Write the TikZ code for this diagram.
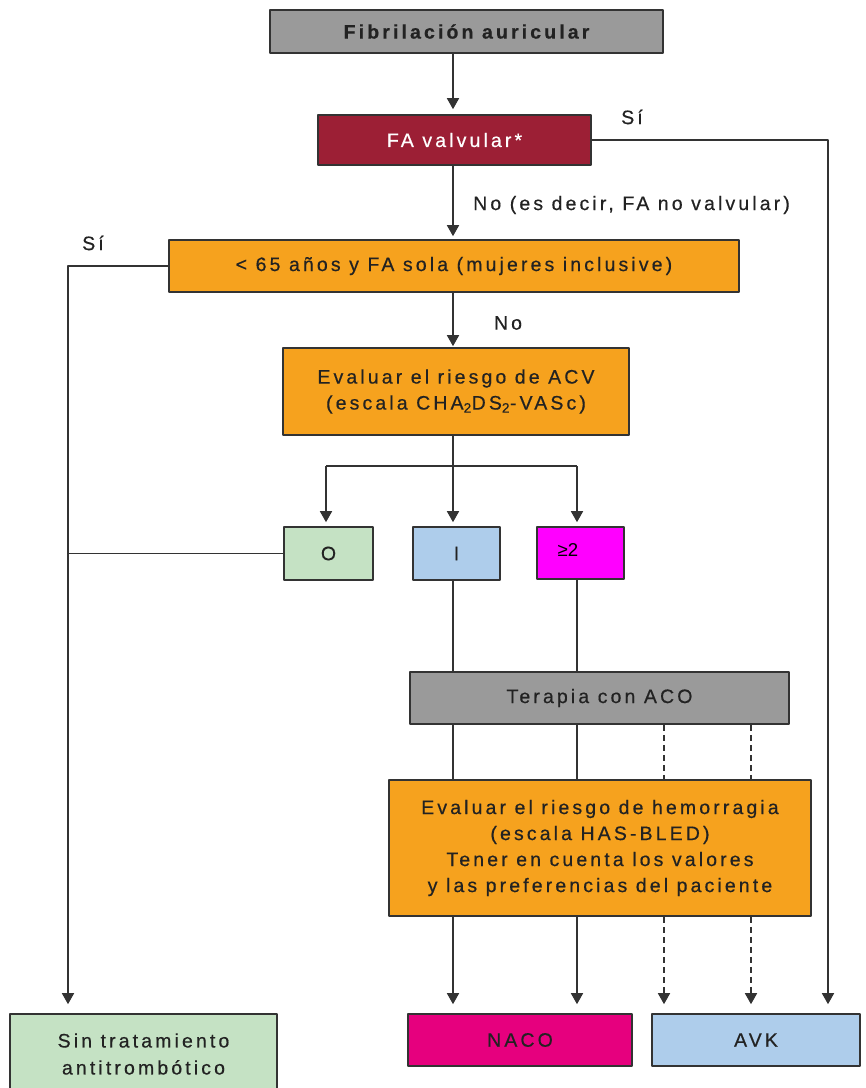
\documentclass[tikz,border=0pt]{standalone}
\usepackage{fontspec}
\setmainfont{Liberation Sans}[LetterSpace=16,FakeBold=0.5]
\newfontfamily\plainfont{Liberation Sans}
\usetikzlibrary{arrows.meta}

\definecolor{gris}{HTML}{9A9A9A}
\definecolor{vino}{HTML}{9C1F35}
\definecolor{naranja}{HTML}{F6A21E}
\definecolor{verde}{HTML}{C5E2C4}
\definecolor{celeste}{HTML}{AECDEB}
\definecolor{fucsia}{HTML}{FF00FF}
\definecolor{rosa}{HTML}{E6007E}
\definecolor{borde}{HTML}{333333}
\definecolor{tinta}{HTML}{222222}

\begin{document}
\begin{tikzpicture}[line join=round,x=1pt,y=-1pt,
  >={Triangle[length=11pt,width=12pt]},
  caja/.style={draw=borde,line width=1.6pt,inner sep=0pt,align=center,text=tinta,
    font=\fontsize{19.5}{26}\selectfont},
  etiq/.style={inner sep=0pt,text=tinta,font=\fontsize{19.5}{26}\selectfont},
  linea/.style={draw=borde,line width=1.6pt},
  flecha/.style={linea,->},
  punteada/.style={linea,dash pattern=on 6pt off 4pt}]

\useasboundingbox (0,0) rectangle (866,1088);
\clip (0,0) rectangle (866,1088);

\coordinate (eje) at (453,0);
\coordinate (izq) at (68,0);
\coordinate (der) at (828,0);
\coordinate (p1) at (664,0);
\coordinate (p2) at (751,0);
\coordinate (c0) at (326,466);
\coordinate (c1) at (453,466);
\coordinate (c2) at (577,466);

\node[caja,fill=gris,minimum width=393,minimum height=43,
  font=\fontsize{19.5}{26}\selectfont\bfseries] (fa) at (466.5,31.5) {Fibrilación auricular};
\node[caja,fill=vino,text=white,minimum width=273,minimum height=50] (valv) at (454.5,140) {FA valvular*};
\node[caja,fill=naranja,minimum width=570,minimum height=52] (edad) at (454,266) {< 65 años y FA sola (mujeres inclusive)};
\node[caja,fill=naranja,minimum width=346,minimum height=87] (acv) at (456,391.5)
  {Evaluar el riesgo de ACV\\(escala CHA\textsubscript{2}DS\textsubscript{2}-VASc)};
\node[caja,fill=verde,minimum width=89,minimum height=53] (cero) at (328.5,553.5) {O};
\node[caja,fill=celeste,minimum width=87,minimum height=53] (uno) at (456.5,553.5) {I};
\node[caja,fill=fucsia,minimum width=87,minimum height=52] (dos) at (580.5,553) {};
\node[inner sep=0pt,text=black,font=\plainfont\fontsize{18.6}{22}\selectfont] (dostxt) at (568,550) {≥2};
\node[caja,fill=gris,minimum width=379,minimum height=52] (aco) at (599.5,698) {Terapia con ACO};
\node[caja,fill=naranja,minimum width=422,minimum height=136] (hem) at (600,848)
  {Evaluar el riesgo de hemorragia\\(escala HAS-BLED)\\Tener en cuenta los valores\\y las preferencias del paciente};
\node[caja,fill=rosa,minimum width=224,minimum height=52] (naco) at (520,1040) {NACO};
\node[caja,fill=celeste,minimum width=208,minimum height=52] (avk) at (756,1040) {AVK};
\node[caja,fill=verde,minimum width=267,minimum height=80,font=\fontsize{19.5}{27}\selectfont] (sin) at (143.5,1054) {Sin tratamiento\\antitrombótico};

\node[etiq] (si1) at (632,117) {Sí};
\node[etiq,anchor=west] (nofa) at (473,205) {No (es decir, FA no valvular)};
\node[etiq] (si2) at (93,243) {Sí};
\node[etiq] (no2) at (508,323) {No};

\draw[flecha,shorten >=5pt] (fa.south -| eje) -- (valv.north -| eje);
\draw[flecha,shorten >=3pt] (valv.south -| eje) -- (edad.north -| eje);
\draw[flecha,shorten >=1pt] (edad.south -| eje) -- (acv.north -| eje);
\draw[flecha,shorten >=9pt] (valv.east) -| (avk.north -| der);
\draw[flecha,shorten >=9pt] (edad.west) -| (sin.north -| izq);
\draw[linea] (cero.west) -- (cero.west -| izq);

\draw[linea] (acv.south -| eje) -- (c1);
\draw[linea] (c0) -- (c2);
\draw[flecha,shorten >=4pt] (c0) -- (cero.north -| c0);
\draw[flecha,shorten >=4pt] (c1) -- (uno.north -| c1);
\draw[flecha,shorten >=4pt] (c2) -- (dos.north -| c2);

\draw[linea] (uno.south -| c1) -- (aco.north -| c1);
\draw[linea] (dos.south -| c2) -- (aco.north -| c2);
\draw[linea] (aco.south -| c1) -- (hem.north -| c1);
\draw[linea] (aco.south -| c2) -- (hem.north -| c2);
\draw[punteada] (aco.south -| p1) -- (hem.north -| p1);
\draw[punteada] (aco.south -| p2) -- (hem.north -| p2);

\draw[flecha,shorten >=9pt] (hem.south -| c1) -- (naco.north -| c1);
\draw[flecha,shorten >=9pt] (hem.south -| c2) -- (naco.north -| c2);
\draw[flecha,punteada,shorten >=9pt] (hem.south -| p1) -- (avk.north -| p1);
\draw[flecha,punteada,shorten >=9pt] (hem.south -| p2) -- (avk.north -| p2);
\end{tikzpicture}
\end{document}
